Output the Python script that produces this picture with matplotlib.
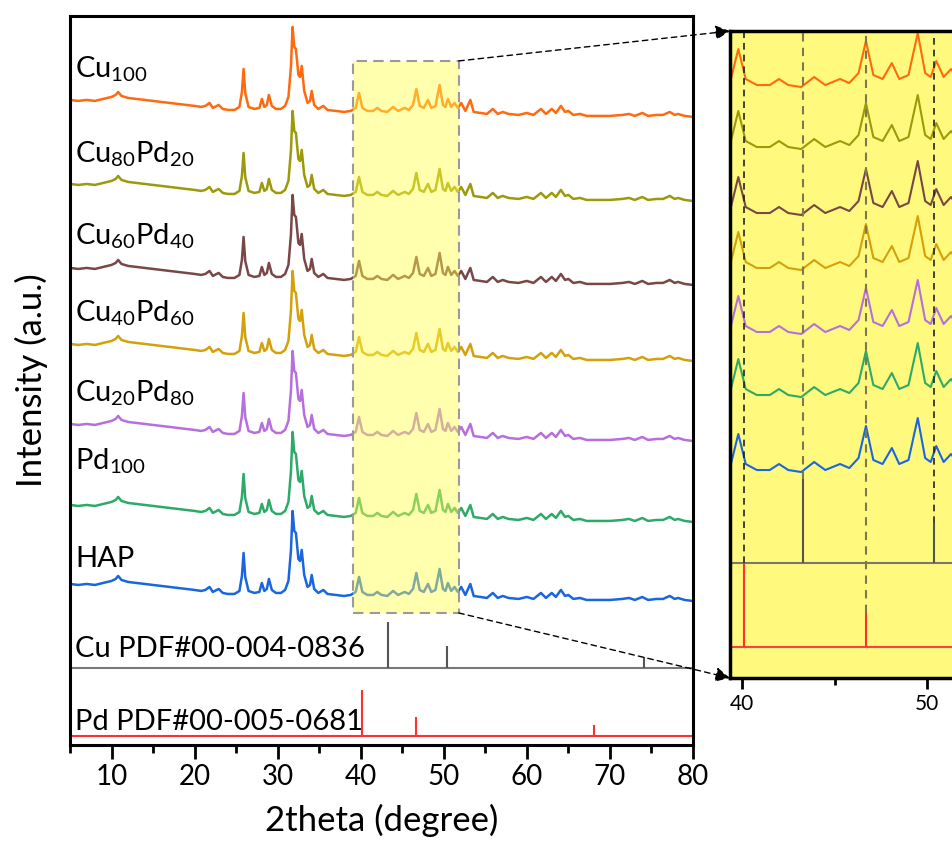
import matplotlib.pyplot as plt
from matplotlib.patches import Rectangle, ConnectionPatch
from matplotlib.ticker import MultipleLocator

plt.rcParams['font.family'] = ['Lato', 'DejaVu Sans']
plt.rcParams['mathtext.default'] = 'regular'

# shared XRD profile (all samples show the HAP pattern)
two_theta = [5.0, 6.0, 7.0, 8.0, 9.0, 10.0, 10.5, 10.8, 11.2, 12.0,
             13.0, 14.0, 15.0, 16.0, 17.0, 18.0, 19.0, 20.0, 20.8, 21.3,
             21.8, 22.2, 22.9, 23.4, 24.0, 24.8, 25.4, 25.7, 25.9, 26.1,
             26.5, 27.2, 27.8, 28.1, 28.4, 28.7, 28.95, 29.3, 29.8, 30.4,
             30.9, 31.3, 31.6, 31.8, 32.0, 32.2, 32.5, 32.7, 32.9, 33.2,
             33.6, 33.9, 34.1, 34.4, 34.9, 35.5, 36.0, 37.0, 38.0, 38.8,
             39.4, 39.8, 40.2, 40.8, 41.5, 42.0, 42.5, 43.2, 43.9, 44.5,
             45.3, 45.8, 46.3, 46.7, 47.1, 47.6, 48.1, 48.5, 49.0, 49.5,
             49.9, 50.2, 50.5, 50.9, 51.3, 51.7, 52.1, 52.6, 53.2, 53.6,
             54.4, 55.2, 55.9, 56.5, 57.1, 57.8, 59.0, 60.0, 60.8, 61.7,
             62.3, 63.0, 63.5, 64.1, 64.6, 65.0, 65.6, 66.4, 67.2, 68.5,
             70.0, 71.5, 72.3, 73.0, 73.9, 74.6, 75.6, 76.4, 77.2, 77.8,
             78.2, 79.0, 80.0]
profile = [17, 16, 17, 16, 18, 20, 22, 25, 21, 19,
           18, 17, 16, 15, 14, 13, 12, 11, 10, 11,
           14, 9, 12, 8, 7, 7, 10, 25, 48, 24,
           10, 8, 9, 18, 10, 12, 22, 11, 8, 8,
           11, 20, 50, 90, 70, 68, 42, 40, 51, 26,
           14, 16, 26, 12, 8, 11, 7, 6, 5, 6,
           9, 24, 9, 6, 6, 9, 6, 5, 10, 6,
           9, 7, 12, 28, 11, 9, 17, 9, 11, 32,
           12, 10, 18, 10, 14, 9, 14, 6, 17, 5,
           4, 3, 8, 3, 5, 3, 2, 4, 2, 8,
           3, 8, 4, 11, 5, 6, 2, 3, 1, 1,
           1, 2, 3, 1, 4, 1, 2, 2, 5, 2,
           3, 1, 0]

samples = ['Cu$_{100}$', 'Cu$_{80}$Pd$_{20}$', 'Cu$_{60}$Pd$_{40}$',
           'Cu$_{40}$Pd$_{60}$', 'Cu$_{20}$Pd$_{80}$', 'Pd$_{100}$', 'HAP']
colors = ['#FF6A0E', '#9C9A0A', '#7A4747', '#D4A10A', '#B66FDD', '#2EAA68', '#1A66E0']
offsets = [628, 544, 460, 384, 304, 223, 144]
label_y = [667, 582, 500, 423, 343, 275, 178]
inset_offsets = [581, 519, 453, 398, 334, 271, 196]

# reference cards
cu_pos = [43.3, 50.4, 74.1]
cu_int = [100, 48, 24]
pd_pos = [40.1, 46.7, 68.1]
pd_int = [100, 41, 24]

fig = plt.figure(figsize=(9.52, 8.43), dpi=100)
ax = fig.add_axes([0.0735, 0.1163, 0.6544, 0.8648])

for name, c, off, ly in zip(samples, colors, offsets, label_y):
    ax.plot(two_theta, [off + p for p in profile], color=c, lw=1.8)
    ax.text(5.6, ly, name, fontsize=21, va='baseline', ha='left')

cu_base, pd_base = 77, 9
ax.axhline(cu_base, color='#777777', lw=1.5)
ax.vlines(cu_pos, cu_base, [cu_base + 0.46 * v for v in cu_int], color='#555555', lw=1.5)
ax.axhline(pd_base, color='#FF3030', lw=1.5)
ax.vlines(pd_pos, pd_base, [pd_base + 0.46 * v for v in pd_int], color='#FF3030', lw=1.5)
ax.text(5.6, 88, 'Cu PDF#00-004-0836', fontsize=21, va='baseline')
ax.text(5.6, 15, 'Pd PDF#00-005-0681', fontsize=21, va='baseline')

ax.add_patch(Rectangle((39.05, 132), 12.75, 552, facecolor=(1, 1, 0.3, 0.45),
                       edgecolor='#9a9a9a', ls=(0, (5, 3)), lw=1.5, zorder=3))

ax.set_xlim(5, 80)
ax.set_ylim(0, 729)
ax.set_xticks(range(10, 81, 10))
ax.xaxis.set_minor_locator(MultipleLocator(5))
ax.set_yticks([])
ax.tick_params(axis='x', which='major', direction='out', length=10, width=2, labelsize=20)
ax.tick_params(axis='x', which='minor', direction='out', length=6, width=2)
for s in ax.spines.values():
    s.set_linewidth(2.2)
ax.set_xlabel('2theta (degree)', fontsize=25, labelpad=10)
ax.set_ylabel('Intensity (a.u.)', fontsize=25, labelpad=16)

# zoomed inset (runs off the right edge of the figure)
ax_in = fig.add_axes([0.7668, 0.1957, 0.2458, 0.7675])
ax_in.set_facecolor('#FFFA7D')
for c, off in zip(colors, inset_offsets):
    ax_in.plot(two_theta, [off + 2.0 * p for p in profile], color=c, lw=1.5)

in_cu, in_pd = 115, 31
ax_in.axhline(in_cu, color='#777777', lw=1.5)
ax_in.vlines(cu_pos, in_cu, [in_cu + 0.84 * v for v in cu_int], color='#555555', lw=1.5)
ax_in.axhline(in_pd, color='#FF4040', lw=1.5)
ax_in.vlines(pd_pos, in_pd, [in_pd + 0.84 * v for v in pd_int], color='#FF3030', lw=1.5)

# guide lines down to each reflection
ax_in.vlines([40.1, 50.4], [in_pd + 0.84 * pd_int[0], in_cu + 0.84 * cu_int[1]], 647,
             color='#222222', lw=1.2, ls=(0, (4, 3)))
ax_in.vlines([43.3, 46.7], [in_cu + 0.84 * cu_int[0], in_pd + 0.84 * pd_int[1]], 647,
             color='#7d7850', lw=1.5, ls=(0, (4, 3)))

ax_in.set_xlim(39.35, 52)
ax_in.set_ylim(0, 647)
ax_in.set_xticks([40, 50])
ax_in.xaxis.set_minor_locator(MultipleLocator(5))
ax_in.set_yticks([])
ax_in.tick_params(axis='x', which='major', direction='out', length=8, width=2, labelsize=15)
ax_in.tick_params(axis='x', which='minor', direction='out', length=5, width=2)
for s in ax_in.spines.values():
    s.set_linewidth(2.5)

for ya, yb in [(684, 1), (132, 0)]:
    con = ConnectionPatch(xyA=(51.8, ya), coordsA=ax.transData,
                          xyB=(0, yb), coordsB=ax_in.transAxes,
                          arrowstyle='-|>', mutation_scale=22,
                          ls=(0, (4, 3)), lw=1, color='k')
    fig.add_artist(con)

fig.savefig('out.png', dpi=100)
